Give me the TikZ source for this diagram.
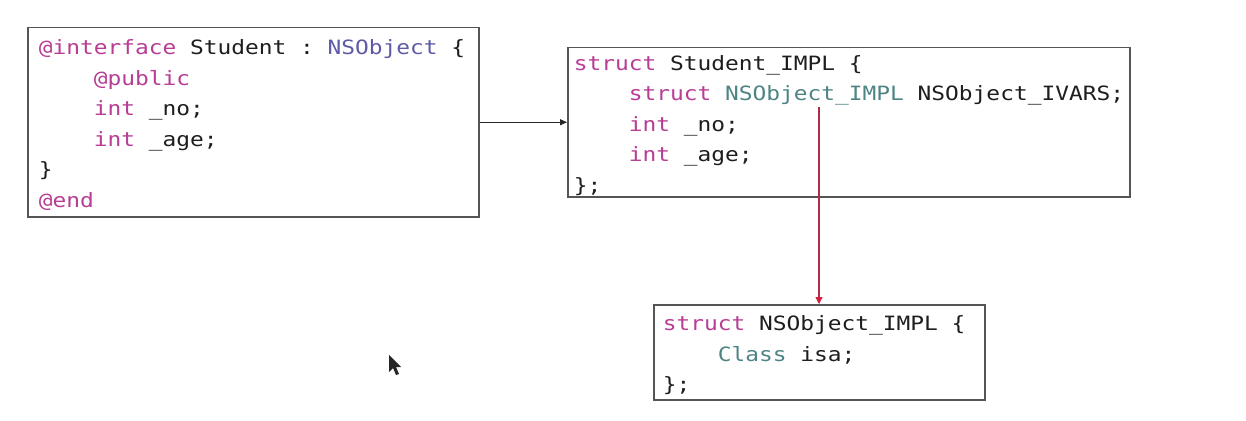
\documentclass[tikz,border=0pt]{standalone}
\usepackage{fontspec}
\newfontfamily\codefont[FakeStretch=1.16]{DejaVu Sans Mono}
\usetikzlibrary{arrows.meta}
\definecolor{kw}{HTML}{B83D94}
\definecolor{cls}{HTML}{5E5BA6}
\definecolor{typ}{HTML}{4E8584}
\definecolor{txt}{HTML}{1E1E1E}
\definecolor{border}{HTML}{555555}
\definecolor{redline}{HTML}{B02C44}
\definecolor{redtip}{HTML}{D0203A}
\newcommand\ind{\phantom{xxxx}}
\newcommand\SP{\phantom{x}}
\newcommand\TopStrut{\rule{0pt}{21pt}}
\newcommand\K[1]{\textcolor{kw}{#1}}
\newcommand\C[1]{\textcolor{cls}{#1}}
\newcommand\T[1]{\textcolor{typ}{#1}}
\tikzset{
  codebox/.style={draw=border, line width=1.5pt, rectangle, anchor=north west, align=left,
    text=txt, inner ysep=0pt, font={\codefont\fontsize{19.7pt}{30.5pt}\selectfont}},
  conn/.style={draw=black!85, line width=1pt, -{Triangle[length=7pt,width=6pt]}},
  redconn/.style={draw=redline, line width=1.1pt, -{Triangle[length=7pt,width=7pt,color=redtip]}}
}
\begin{document}
\begin{tikzpicture}[x=1pt,y=-1pt]
\useasboundingbox (0,0) rectangle (1246,420);
\fill[white] (0,0) rectangle (1246,420);

\node[codebox, minimum height=189pt, text width=429pt, inner xsep=11pt] (iface) at (27,27) {%
\TopStrut\K{@interface}\SP Student\SP:\SP\C{NSObject}\SP\{\\
\ind\K{@public}\\
\ind\K{int}\SP\_no;\\
\ind\K{int}\SP\_age;\\
\}\\
\K{@end}};

\node[codebox, minimum height=149pt, text width=550pt, inner xsep=6pt] (impl) at (567,47) {%
\TopStrut\K{struct}\SP Student\_IMPL\SP\{\\
\ind\K{struct}\SP\T{NSObject\_IMPL}\SP NSObject\_IVARS;\\
\ind\K{int}\SP\_no;\\
\ind\K{int}\SP\_age;\\
\};};

\node[codebox, minimum height=95pt, text width=313pt, inner xsep=9pt] (nsimpl) at (653,304) {%
\TopStrut\K{struct}\SP NSObject\_IMPL\SP\{\\
\ind\T{Class}\SP isa;\\
\};};

\draw[conn] (iface.east) -- (iface.east -| impl.west);
\coordinate (src) at (819,107);
\draw[redconn] (src) -- (src |- nsimpl.north);

% mouse cursor
\fill[black!85] (389,355) -- (389,372) -- (393,368) -- (396,375) -- (399,374) -- (396,367) -- (401,367) -- cycle;
\end{tikzpicture}
\end{document}
